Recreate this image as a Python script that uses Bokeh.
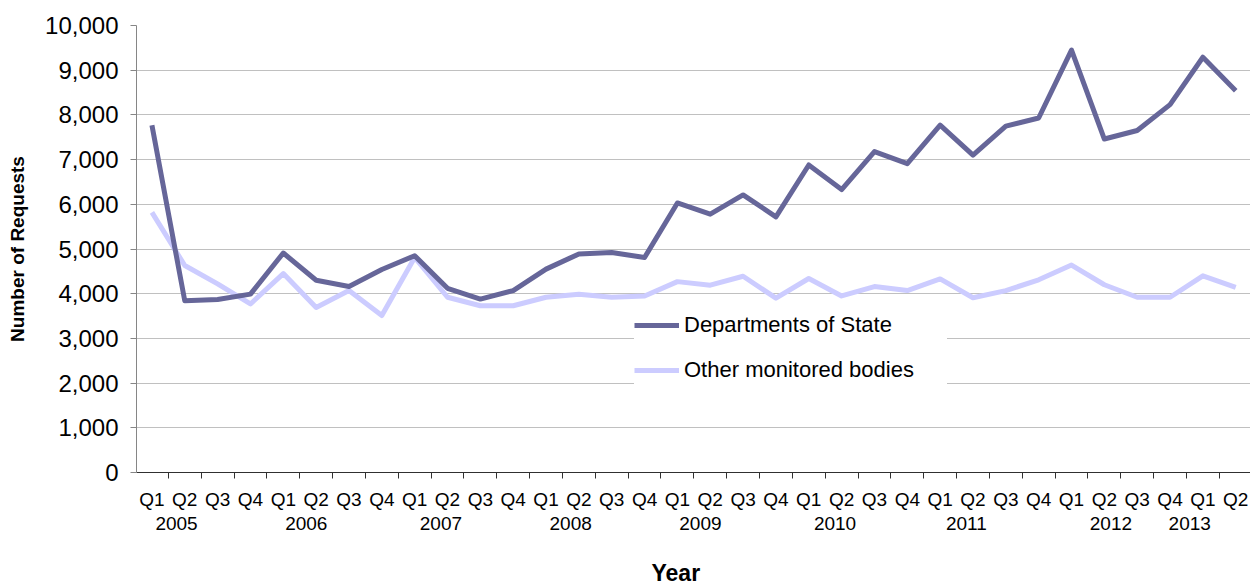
from bokeh.plotting import figure
from bokeh.models import (FixedTicker, NumeralTickFormatter, LinearAxis, Legend,
                          LegendItem, Title, Range1d)
from bokeh.embed import file_html
from bokeh.resources import INLINE

# ---- data ----
quarters = ["Q1", "Q2", "Q3", "Q4"] * 8 + ["Q1", "Q2"]
years = ["2005", "2006", "2007", "2008", "2009", "2010", "2011", "2012", "2013"]
year_label_pos = [0.75, 4.7, 8.8, 12.75, 16.7, 20.8, 24.8, 29.2, 31.6]
departments = [7770, 3840, 3870, 3990, 4910, 4300, 4160, 4540, 4850, 4120, 3880, 4070,
               4550, 4890, 4920, 4810, 6030, 5780, 6210, 5720, 6880, 6330, 7180, 6910,
               7770, 7100, 7750, 7930, 9450, 7460, 7650, 8230, 9290, 8540]
other_bodies = [5820, 4630, 4220, 3770, 4450, 3690, 4070, 3510, 4810, 3920, 3730, 3730,
                3920, 3990, 3920, 3950, 4270, 4190, 4390, 3900, 4340, 3950, 4160, 4070,
                4330, 3910, 4070, 4310, 4640, 4200, 3920, 3920, 4400, 4140]
y_ticks = list(range(0, 10001, 1000))

x = list(range(len(quarters)))
FONT = "Liberation Sans"

p = figure(width=1250, height=586, output_backend="svg", toolbar_location=None,
           x_range=Range1d(-0.47, 33.45), y_range=Range1d(0, 10000),
           min_border_left=136, min_border_right=0, min_border_top=25,
           min_border_bottom=114)
p.outline_line_color = None
p.background_fill_color = "white"
p.xgrid.visible = False
p.ygrid.ticker = FixedTicker(ticks=y_ticks)
p.ygrid.grid_line_color = "#c0c0c0"
p.ygrid.grid_line_width = 1

r_light = p.line(x, other_bodies, line_color="#ccccff", line_width=5, line_join="round")
r_dark = p.line(x, departments, line_color="#666699", line_width=5, line_join="round")

# y axis
ya = p.yaxis[0]
ya.ticker = FixedTicker(ticks=y_ticks)
ya.formatter = NumeralTickFormatter(format="0,0")
ya.major_label_text_font = FONT
ya.major_label_text_font_size = "24px"
ya.major_label_text_color = "black"
ya.axis_line_color = "#868686"
ya.major_tick_line_color = "#868686"
ya.major_tick_out = 6
ya.major_tick_in = 0
ya.minor_tick_line_color = None
ya.major_label_standoff = 12
ya.axis_label = "Number of Requests"
ya.axis_label_text_font = FONT
ya.axis_label_text_font_size = "19px"
ya.axis_label_text_font_style = "bold"
ya.axis_label_text_color = "black"
ya.axis_label_standoff = 14

# x axis: quarter labels, tick marks between categories
xa = p.xaxis[0]
xa.ticker = FixedTicker(ticks=x, minor_ticks=[i - 0.5 for i in range(len(x) + 1)])
xa.major_label_overrides = {i: q for i, q in enumerate(quarters)}
xa.major_tick_out = 0
xa.major_tick_in = 0
xa.minor_tick_out = 6
xa.minor_tick_in = 0
xa.minor_tick_line_color = "#303030"
xa.axis_line_color = "#303030"
xa.major_label_standoff = 10
xa.major_label_text_font = FONT
xa.major_label_text_font_size = "19px"
xa.major_label_text_color = "black"

# x axis: year labels
year_axis = LinearAxis(ticker=FixedTicker(ticks=year_label_pos),
                       major_label_overrides={pos: yr for pos, yr in zip(year_label_pos, years)})
year_axis.axis_line_color = None
year_axis.major_tick_line_color = None
year_axis.minor_tick_line_color = None
year_axis.major_tick_out = 0
year_axis.major_tick_in = 0
year_axis.major_label_standoff = 4
year_axis.major_label_text_font = FONT
year_axis.major_label_text_font_size = "19px"
year_axis.major_label_text_color = "black"
p.add_layout(year_axis, "below")

# invisible spacer between the year labels and the axis title
spacer = LinearAxis(ticker=FixedTicker(ticks=[x[0]]), major_label_overrides={x[0]: ""},
                    axis_line_color=None, major_tick_line_color=None,
                    minor_tick_line_color=None, major_tick_out=25, major_tick_in=0,
                    major_label_standoff=0, major_label_text_font_size="1px")
p.add_layout(spacer, "below")

p.add_layout(Title(text="Year", align="left", offset=515, text_font=FONT,
                   text_font_size="23px", text_font_style="bold", text_color="black",
                   text_line_height=1.0, standoff=0), "below")

legend = Legend(items=[LegendItem(label="Departments of State", renderers=[r_dark]),
                       LegendItem(label="Other monitored bodies", renderers=[r_light])],
                location=(498, 82), glyph_width=45, glyph_height=40, label_height=40,
                label_standoff=5, spacing=5, padding=2, margin=0,
                border_line_color=None, background_fill_color="white",
                background_fill_alpha=1, label_text_font=FONT,
                label_text_font_size="22px", label_text_color="black", label_width=263)
p.add_layout(legend)

open("out.html", "w").write(file_html(p, INLINE))
